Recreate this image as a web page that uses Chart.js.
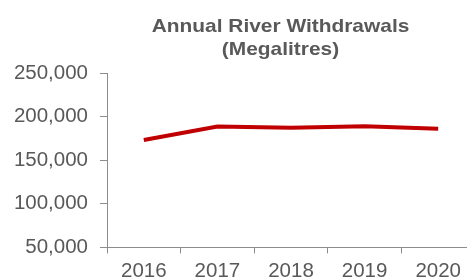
<!DOCTYPE html>
<html>
<head>
<meta charset="utf-8">
<script src="https://cdn.jsdelivr.net/npm/chart.js@4/dist/chart.umd.min.js"></script>
<style>
  html, body { margin: 0; padding: 0; background: #fff; overflow: hidden; }
  #wrap { width: 467px; height: 280px; overflow: hidden; position: relative; }
  #box { width: 561px; height: 290px; position: absolute; left: 0; top: 0; }
  #title {
    position: absolute; left: 94px; width: 373px; top: 14px;
    text-align: center; color: #595959;
    font: bold 19px/23px "Liberation Sans", Arial, sans-serif;
    transform: scaleX(1.1); transform-origin: 186.5px 0;
  }
</style>
</head>
<body>
<div id="wrap">
  <div id="box"><canvas id="riverChart"></canvas></div>
  <div id="title"></div>
</div>
<script>
// chart data
const years = ["2016", "2017", "2018", "2019", "2020"];
const withdrawals = [173200, 188600, 187100, 189000, 186000];
const titleLines = ["Annual River Withdrawals", "(Megalitres)"];

const textGrey = "#595959";
const axisGrey = "#8c8c8c";
const tickFont = { family: "'Liberation Sans', Arial, sans-serif", size: 20.5 };

document.getElementById("title").innerHTML = titleLines.join("<br>");

const ctx = document.getElementById("riverChart").getContext("2d");
new Chart(ctx, {
  type: "line",
  data: {
    labels: years,
    datasets: [{
      data: withdrawals,
      borderColor: "#c00000",
      borderWidth: 4,
      pointRadius: 0,
      tension: 0,
      fill: false,
    }],
  },
  options: {
    responsive: true,
    maintainAspectRatio: false,
    animation: false,
    layout: { padding: { left: 0, right: 86, top: 73, bottom: 0 } },
    plugins: {
      legend: { display: false },
      tooltip: { enabled: false },
      title: { display: false },
    },
    scales: {
      x: {
        offset: true,
        grid: { display: true, drawOnChartArea: false, drawTicks: true, tickLength: 6, color: axisGrey, offset: true },
        border: { display: true, color: axisGrey, width: 1 },
        ticks: { color: textGrey, padding: 6, font: tickFont, maxRotation: 0 },
      },
      y: {
        min: 50000,
        max: 250000,
        afterFit: s => { s.width = 107; },
        grid: { display: true, drawOnChartArea: false, drawTicks: true, tickLength: 7, color: axisGrey },
        border: { display: true, color: axisGrey, width: 1 },
        ticks: {
          stepSize: 50000,
          color: textGrey,
          padding: 12,
          font: tickFont,
          callback: v => v.toLocaleString("en-US"),
        },
      },
    },
  },
});
</script>
</body>
</html>
